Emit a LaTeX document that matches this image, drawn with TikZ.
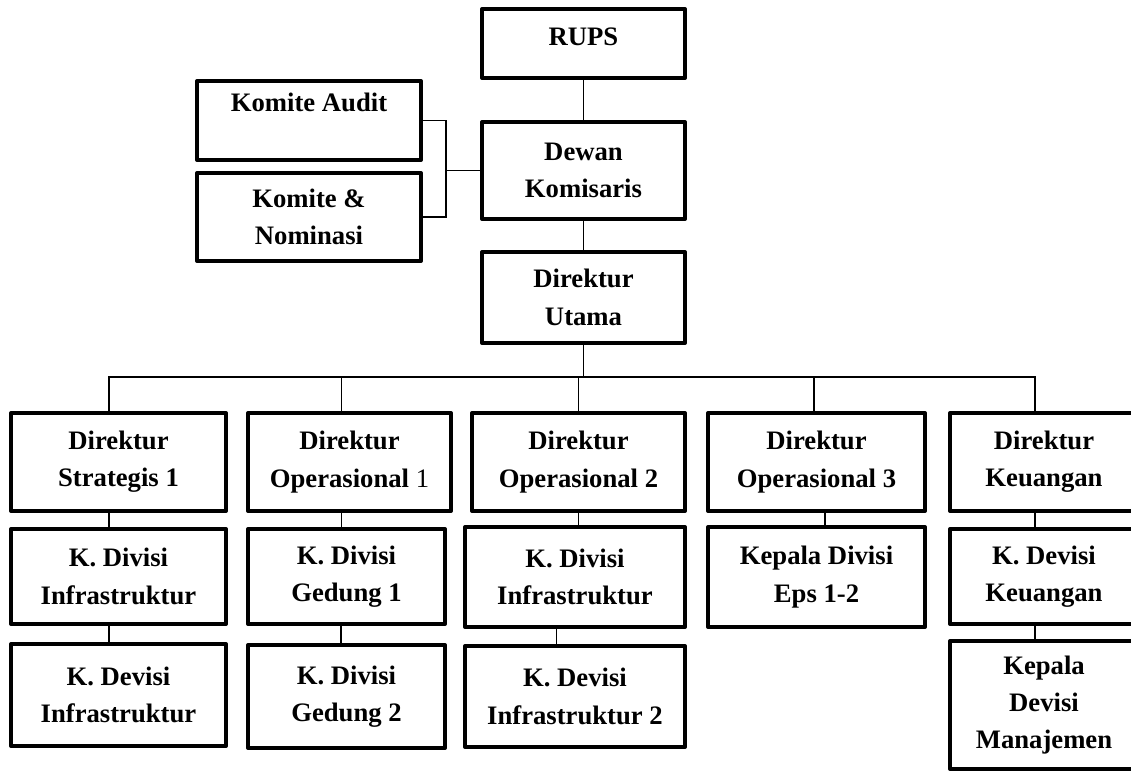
\documentclass[tikz,border=0pt]{standalone}
\usepackage{fontspec}
\setmainfont{Liberation Serif}
\begin{document}
\begin{tikzpicture}[x=0.75pt,y=-0.75pt,
  orgbox/.style={draw, line width=3pt, line join=round, align=center, inner sep=0pt,
    font=\fontsize{20}{28}\selectfont\bfseries},
  link/.style={line width=1.1pt}]
\clip (0,0) rectangle (1131,772);
%top of the chart
\node[orgbox, minimum width=152.25pt, minimum height=51.75pt, text depth=10pt] (rups) at (583.5,43.5) {RUPS};
\node[orgbox, minimum width=152.25pt, minimum height=72.75pt] (dewan) at (583.5,170.5) {Dewan\\Komisaris};
\node[orgbox, minimum width=152.25pt, minimum height=68.25pt] (utama) at (583.5,297.5) {Direktur\\Utama};
\node[orgbox, minimum width=168pt, minimum height=59.25pt] (audit) at (309,120.5) {Komite Audit\\\mbox{}};
\node[orgbox, minimum width=168pt, minimum height=66pt] (nominasi) at (309,217) {Komite \&\\Nominasi};
\draw[link] (rups) -- (dewan);
\draw[link] (dewan) -- (utama);
\coordinate (brk) at (446,161);
\draw[link] (audit.east) -| (brk) |- (nominasi.east);
\draw[link] (dewan.west) -- (dewan.west -| brk);
%directors
\node[orgbox, minimum width=161.25pt, minimum height=73.5pt] (d1) at (118.5,462) {Direktur\\Strategis 1};
\node[orgbox, minimum width=152.25pt, minimum height=73.5pt] (d2) at (349.5,462) {Direktur\\Operasional {\mdseries 1}};
\node[orgbox, minimum width=159.75pt, minimum height=73.5pt] (d3) at (578.5,462) {Direktur\\Operasional 2};
\node[orgbox, minimum width=162.75pt, minimum height=73.5pt] (d4) at (816.5,462) {Direktur\\Operasional 3};
\node[orgbox, minimum width=141pt, minimum height=73.5pt] (d5) at (1044,462) {Direktur\\Keuangan};
\draw[link] (utama.south) -- ++(0,32) coordinate (bus);
\foreach \n/\dx in {d1/-7,d2/-6,d3/0,d4/-2,d5/-6.75}
  \draw[link] ([xshift=\dx pt]\n.north) |- (bus);
%division heads
\node[orgbox, minimum width=161.25pt, minimum height=71.25pt] (k1) at (118.5,576.5) {K. Divisi\\Infrastruktur};
\node[orgbox, minimum width=147.75pt, minimum height=71.25pt] (k2) at (346.5,576.5) {K. Divisi\\Gedung 1};
\node[orgbox, minimum width=165pt, minimum height=75pt] (k3) at (575,577) {K. Divisi\\Infrastruktur};
\node[orgbox, minimum width=162.75pt, minimum height=75pt] (k4) at (816.5,577) {Kepala Divisi\\Eps 1-2};
\node[orgbox, minimum width=141pt, minimum height=71.25pt] (k5) at (1044,576.5) {K. Devisi\\Keuangan};
\foreach \a/\b/\dx in {d1/k1/-7,d2/k2/-6,d3/k3/0,d4/k4/6.4,d5/k5/-6.75}
  \draw[link] ([xshift=\dx pt]\a.south) -- ([xshift=\dx pt]\a.south |- \b.north);
%last row
\node[orgbox, minimum width=161.25pt, minimum height=76.5pt] (m1) at (118.5,695) {K. Devisi\\Infrastruktur};
\node[orgbox, minimum width=147.75pt, minimum height=77.25pt] (m2) at (346.5,696.5) {K. Divisi\\Gedung 2};
\node[orgbox, minimum width=165pt, minimum height=75.75pt] (m3) at (575,696.5) {K. Devisi\\Infrastruktur 2};
\node[orgbox, minimum width=141pt, minimum height=96pt] (m5) at (1044,705) {Kepala\\Devisi\\Manajemen};
\foreach \a/\b/\dx in {k1/m1/-7,k2/m2/-4,k3/m3/-14,k5/m5/-6.75}
  \draw[link] ([xshift=\dx pt]\a.south) -- ([xshift=\dx pt]\a.south |- \b.north);
\end{tikzpicture}
\end{document}
